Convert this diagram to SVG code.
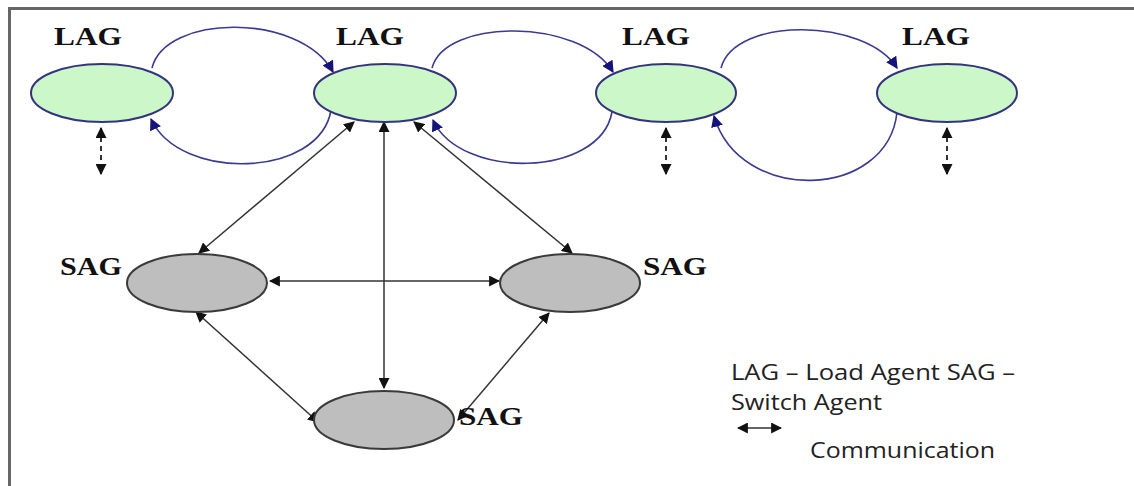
<svg xmlns="http://www.w3.org/2000/svg" width="1134" height="486" viewBox="0 0 1134 486">
<defs>
<style>
.lag{fill:#ccf7c8;stroke:#333380;stroke-width:2}
.sag{fill:#bebebe;stroke:#3a3a3a;stroke-width:2}
.lbl{font-family:"Liberation Serif",serif;font-weight:bold;font-size:25px;fill:#111}
.blue{fill:none;stroke:#3a3a90;stroke-width:1.6}
.blk{fill:none;stroke:#333;stroke-width:1.5}
.dash{fill:none;stroke:#333;stroke-width:2;stroke-dasharray:5,4}
.leg{font-family:"Open Sans","Liberation Sans",sans-serif;font-size:21px;fill:#222}
</style>
<marker id="bh" viewBox="0 0 10 10" refX="9" refY="5" markerWidth="12" markerHeight="12" markerUnits="userSpaceOnUse" orient="auto"><path d="M0,0 L10,5 L0,10 z" fill="#14147a"/></marker>
<marker id="ah" viewBox="0 0 10 10" refX="9" refY="5" markerWidth="11" markerHeight="11" markerUnits="userSpaceOnUse" orient="auto-start-reverse"><path d="M0,0 L10,5 L0,10 z" fill="#111"/></marker>
</defs>
<rect x="0" y="0" width="1134" height="486" fill="#fff"/>
<path d="M9.5,486 V8.5 H1134" fill="none" stroke="#666" stroke-width="3"/>

<g id="connectors">
<path class="blue" d="M152,68 C165,14 300,12 333,72" marker-end="url(#bh)"/>
<path class="blue" d="M331,110 C320,178 180,182 151,119" marker-end="url(#bh)"/>
<path class="blue" d="M432,68 C445,18 580,18 613,72" marker-end="url(#bh)"/>
<path class="blue" d="M612,112 C600,178 460,180 433,120" marker-end="url(#bh)"/>
<path class="blue" d="M721,68 C735,16 865,18 897,68" marker-end="url(#bh)"/>
<path class="blue" d="M897,112 C888,200 740,205 714,116" marker-end="url(#bh)"/>
<path class="dash" d="M101,128 V174" marker-start="url(#ah)" marker-end="url(#ah)"/>
<path class="dash" d="M666,128 V174" marker-start="url(#ah)" marker-end="url(#ah)"/>
<path class="dash" d="M947,128 V174" marker-start="url(#ah)" marker-end="url(#ah)"/>
<path class="blk" d="M354,122 L199,253" marker-start="url(#ah)" marker-end="url(#ah)"/>
<path class="blk" d="M384,122 V388" marker-start="url(#ah)" marker-end="url(#ah)"/>
<path class="blk" d="M414,122 L572,253" marker-start="url(#ah)" marker-end="url(#ah)"/>
<path class="blk" d="M270,281 H499" marker-start="url(#ah)" marker-end="url(#ah)"/>
<path class="blk" d="M196,312 L318,422" marker-start="url(#ah)" marker-end="url(#ah)"/>
<path class="blk" d="M458,420 L549,313" marker-start="url(#ah)" marker-end="url(#ah)"/>
</g>

<g id="lag1"><ellipse class="lag" cx="102" cy="93" rx="71" ry="29"/><text class="lbl" x="54" y="45" textLength="68" lengthAdjust="spacingAndGlyphs">LAG</text></g>
<g id="lag2"><ellipse class="lag" cx="385" cy="93" rx="71" ry="29"/><text class="lbl" x="336" y="45" textLength="68" lengthAdjust="spacingAndGlyphs">LAG</text></g>
<g id="lag3"><ellipse class="lag" cx="666" cy="93" rx="70" ry="29"/><text class="lbl" x="622" y="45" textLength="68" lengthAdjust="spacingAndGlyphs">LAG</text></g>
<g id="lag4"><ellipse class="lag" cx="947" cy="93" rx="70" ry="29"/><text class="lbl" x="902" y="45" textLength="68" lengthAdjust="spacingAndGlyphs">LAG</text></g>

<g id="sag1"><ellipse class="sag" cx="197" cy="283" rx="70" ry="29"/><text class="lbl" x="60" y="275" textLength="62" lengthAdjust="spacingAndGlyphs">SAG</text></g>
<g id="sag2"><ellipse class="sag" cx="570" cy="283" rx="70" ry="29"/><text class="lbl" x="643" y="275" textLength="64" lengthAdjust="spacingAndGlyphs">SAG</text></g>
<g id="sag3"><ellipse class="sag" cx="384" cy="420" rx="70" ry="29"/><text class="lbl" x="459" y="425" textLength="64" lengthAdjust="spacingAndGlyphs">SAG</text></g>

<g id="legend">
<text class="leg" x="731" y="380" textLength="284" lengthAdjust="spacingAndGlyphs">LAG – Load Agent SAG –</text>
<text class="leg" x="731" y="410" textLength="151" lengthAdjust="spacingAndGlyphs">Switch Agent</text>
<path class="blk" d="M738,428 H781" marker-start="url(#ah)" marker-end="url(#ah)"/>
<text class="leg" x="810" y="458" textLength="185" lengthAdjust="spacingAndGlyphs">Communication</text>
</g>
</svg>
